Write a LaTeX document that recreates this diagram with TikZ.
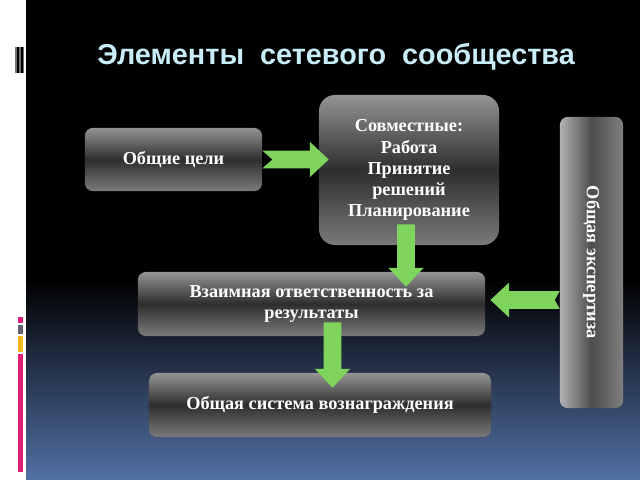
\documentclass[tikz,border=0pt]{standalone}
\usepackage{fontspec}
\setmainfont{Liberation Serif}
\newfontfamily\titlefont{Liberation Sans}
\usetikzlibrary{calc}
\definecolor{arrowgreen}{RGB}{126,212,92}
\definecolor{titlecyan}{RGB}{200,236,248}
\definecolor{bgblue}{RGB}{82,112,165}
\definecolor{barpink}{RGB}{222,30,120}
\definecolor{bargray}{RGB}{95,98,110}
\definecolor{baryellow}{RGB}{245,185,30}
\tikzset{
	box/.style={rounded corners=0.2cm, top color=black!42, bottom color=black!52, middle color=black!82,
		text=white, font=\bfseries\fontsize{13}{15}\selectfont, align=center, inner sep=0pt},
}
\def\greenarrow(#1)(#2)(#3){%
	\coordinate (hb) at ($(#2)!0.47cm!(#1)$);
	\fill[arrowgreen] ($(#1)!0.22cm!90:(#2)$) -- ($(hb)!0.22cm!90:(#2)$) -- ($(hb)!0.44cm!90:(#2)$) -- (#2)
		-- ($(hb)!0.44cm!-90:(#2)$) -- ($(hb)!0.22cm!-90:(#2)$) -- ($(#1)!0.22cm!-90:(#2)$) -- ($(#1)!#3!(#2)$) -- cycle;}

\begin{document}
\begin{tikzpicture}[x=0.025cm, y=-0.025cm]
		%%%%% START %%%%%
		\useasboundingbox (0,0) rectangle (640,480);
		
		\fill[white] (0,0) rectangle (26,480);
		\fill[black] (26,0) rectangle (640,480);
		\shade[top color=black, bottom color=bgblue] (26,280) rectangle (640,480);
		
		\fill[black!55] (15,47) rectangle (24,73);
		\fill[black] (17,47) rectangle (19,73);
		\fill[black] (21,47) rectangle (23,73);
		
		\fill[barpink] (18,317) rectangle (23,323);
		\fill[bargray] (18,325) rectangle (23,334);
		\fill[baryellow] (18,336) rectangle (23,352);
		\fill[barpink] (18,354) rectangle (23,472);
		
		\node[text=titlecyan, font=\titlefont\bfseries\fontsize{20.5}{24}\selectfont] (title) at (336,57) {Элементы\ \ сетевого\ \ сообщества};
		
		\node[box, minimum width=4.43cm, minimum height=1.58cm] (goals) at (173.5,159.5) {Общие цели};
		\node[box, rounded corners=0.4cm, minimum width=4.5cm, minimum height=3.75cm] (joint) at (409,170) {Совместные:\\Работа\\Принятие\\решений\\Планирование};
		\node[box, left color=black!30, right color=black!50, middle color=black!70, minimum width=1.58cm, minimum height=7.28cm] (expert) at (591.5,262.5) {\rotatebox{-90}{Общая экспертиза}};
		\node[box, minimum width=8.68cm, minimum height=1.6cm] (resp) at (311.5,304) {Взаимная ответственность за\\результаты};
		\node[box, minimum width=8.55cm, minimum height=1.6cm] (reward) at (320,405) {Общая система вознаграждения};
		
		\coordinate (a1e) at ($(joint.west |- goals.east)+(10,0)$);
		\greenarrow(goals.east)(a1e)(0.25cm)
		\coordinate (a2s) at ($(joint.south)+(-3,-21)$);
		\coordinate (a2e) at ($(a2s |- resp.north)+(0,15)$);
		\greenarrow(a2s)(a2e)(0cm)
		\coordinate (a3s) at ($(resp.east -| expert.west)+(0,-4)$);
		\coordinate (a3e) at ($(resp.east)+(5,-4)$);
		\greenarrow(a3s)(a3e)(0.12cm)
		\coordinate (a4s) at ($(resp.south)+(21,-14)$);
		\coordinate (a4e) at ($(a4s |- reward.north)+(0,15)$);
		\greenarrow(a4s)(a4e)(0cm)
		
		%%%%% END %%%%%
\end{tikzpicture}
\end{document}
